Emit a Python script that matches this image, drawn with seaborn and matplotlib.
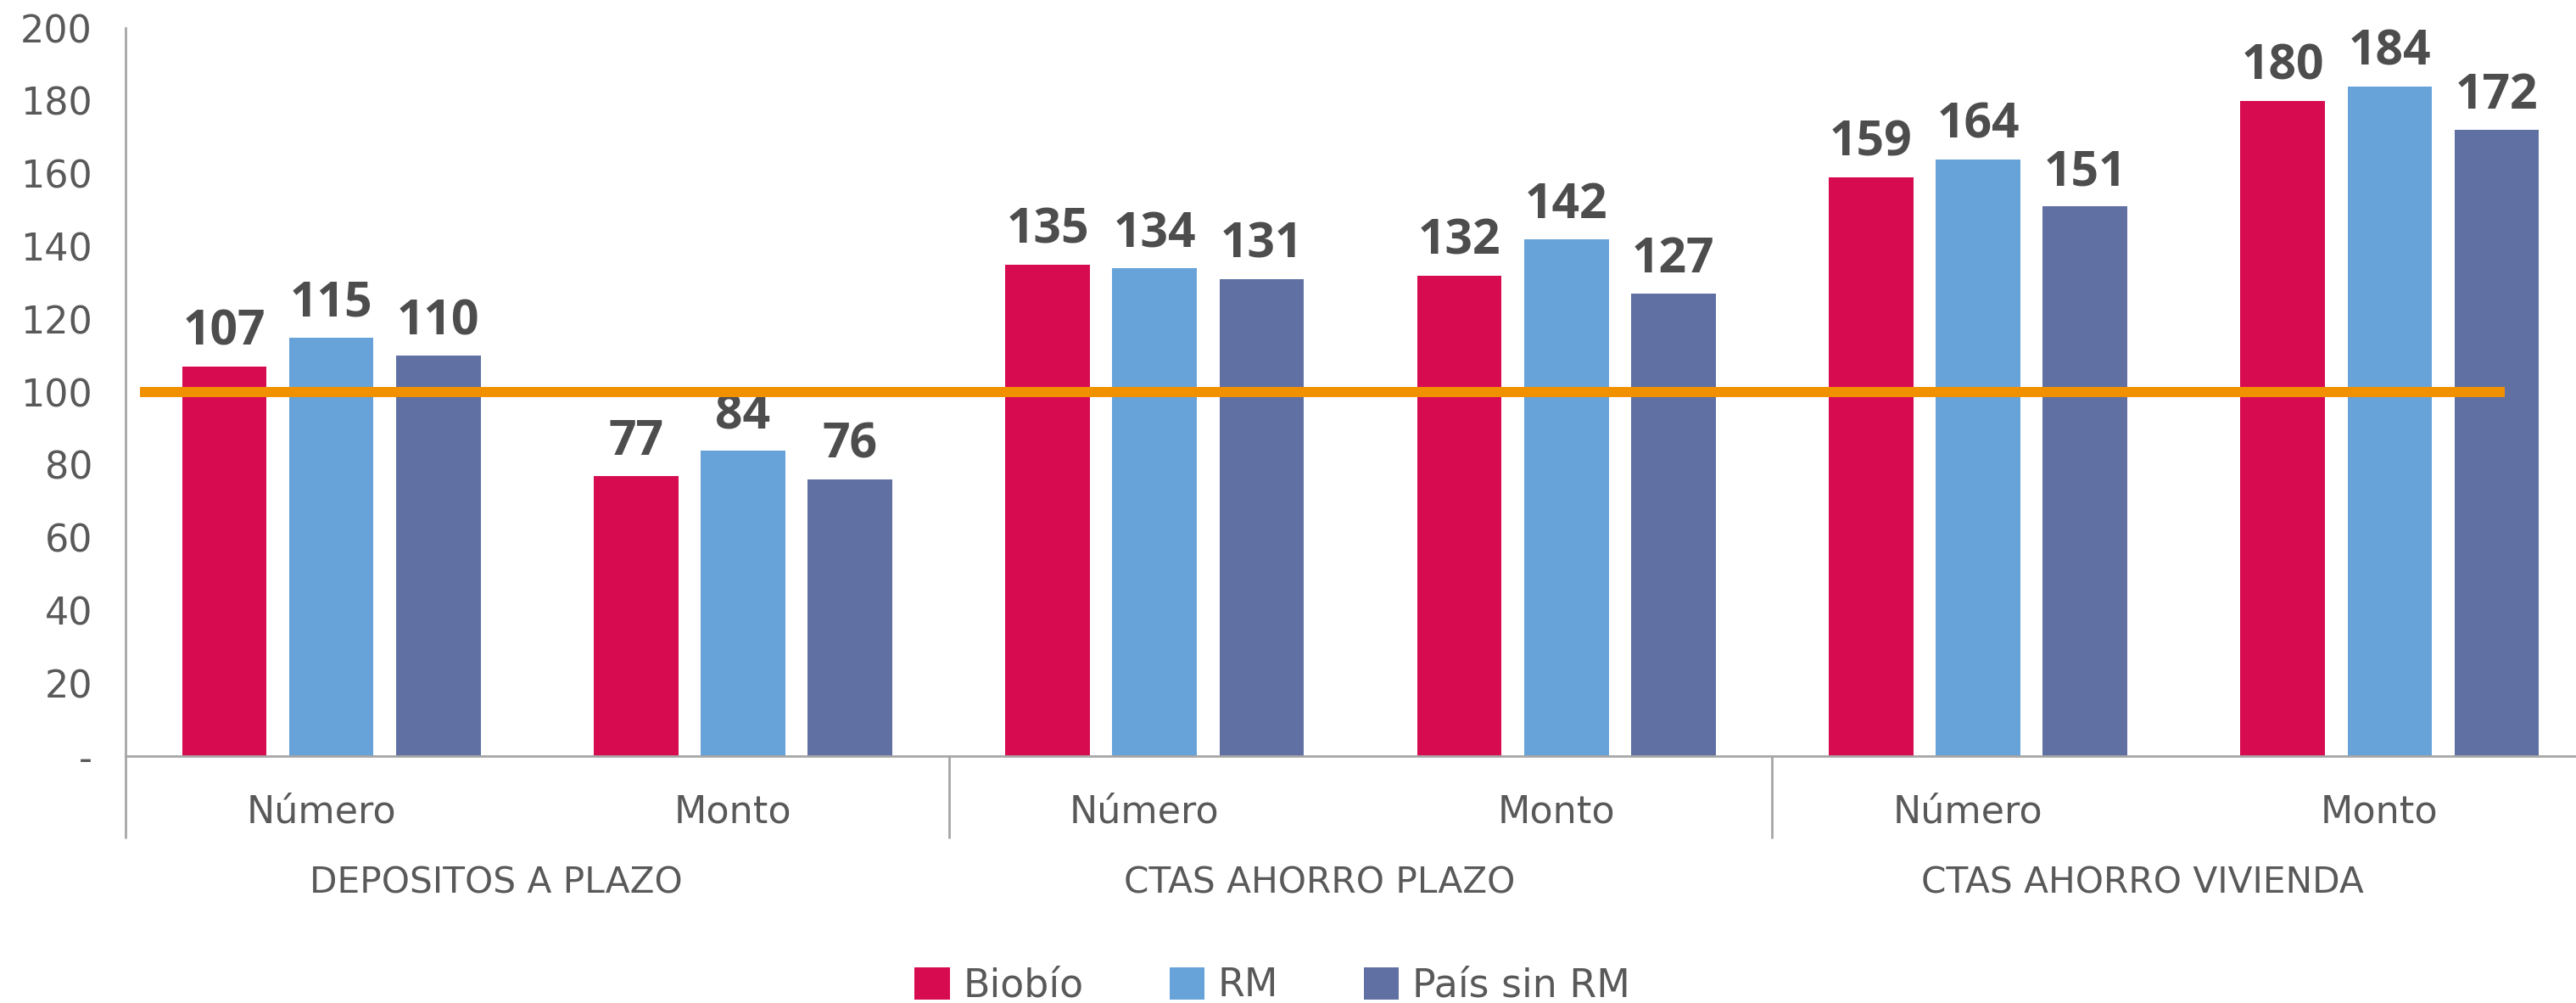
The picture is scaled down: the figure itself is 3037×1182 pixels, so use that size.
import numpy as np
import pandas as pd
import matplotlib
matplotlib.use('Agg')
import matplotlib.pyplot as plt
import matplotlib.transforms as mtransforms
from matplotlib.patches import Patch
import seaborn as sns

# data
groups = ['DEPOSITOS A PLAZO', 'CTAS AHORRO PLAZO', 'CTAS AHORRO VIVIENDA']
measures = ['Número', 'Monto']
series = ['Biobío', 'RM', 'País sin RM']
biobio = [107, 77, 135, 132, 159, 180]
rm = [115, 84, 134, 142, 164, 184]
pais_sin_rm = [110, 76, 131, 127, 151, 172]
reference_level = 100

colors = ['#D70C50', '#67A3D9', '#6170A3']
text_grey = '#595959'
axis_grey = '#A6A6A6'

sns.set_theme(style='white')
plt.rcParams['font.family'] = ['DejaVu Sans']

# one key per bar position (group | measure) so the duplicate labels stay apart
keys = ['{}|{}'.format(g, m) for g in groups for m in measures]
rows = []
for name, vals in zip(series, [biobio, rm, pais_sin_rm]):
    for k, v in zip(keys, vals):
        rows.append({'pos': k, 'serie': name, 'valor': v})
df = pd.DataFrame(rows)

fig = plt.figure(figsize=(15.185, 5.91), dpi=200)
ax = fig.add_axes([0.0487, 0.2462, 1.0076 - 0.0487, 0.972 - 0.2462])

sns.barplot(data=df, x='pos', y='valor', hue='serie', order=keys, hue_order=series,
            palette=colors, width=0.78, gap=0.21, saturation=1, linewidth=0,
            errorbar=None, legend=False, ax=ax)

# value labels, nudged a bit to the right like in the reference
lab_shift = mtransforms.ScaledTranslation(0.06, 0, fig.dpi_scale_trans)
for cont in ax.containers:
    texts = ax.bar_label(cont, fmt='%d', padding=4, fontsize=20.5, fontweight='bold',
                         color='#4D4D4D', family=['Open Sans', 'DejaVu Sans'])
    for t in texts:
        t.set_transform(t.get_transform() + lab_shift)

# reference line
ax.hlines(reference_level, -0.465, 5.28, color='#F29100', linewidth=4.3, zorder=3)

ax.set_xlim(-0.5, len(keys) - 0.5)
ax.set_ylim(0, 200)
ax.set_yticks(np.arange(0, 201, 20))
ax.set_yticklabels(['-'] + [str(v) for v in range(20, 201, 20)])
ax.set_xticks(range(len(keys)))
ax.set_xticklabels([k.split('|')[1] for k in keys])
ax.tick_params(axis='both', length=0, labelsize=16, labelcolor=text_grey)
ax.tick_params(axis='y', pad=14)
ax.tick_params(axis='x', pad=16)
ax.set_xlabel('')
ax.set_ylabel('')

# category labels sit a little left of the bar centres in the reference
shift = mtransforms.ScaledTranslation(-0.06, 0, fig.dpi_scale_trans)
for lab in ax.get_xticklabels():
    lab.set_transform(lab.get_transform() + shift)

for side in ['top', 'right']:
    ax.spines[side].set_visible(False)
for side in ['left', 'bottom']:
    ax.spines[side].set_color(axis_grey)
    ax.spines[side].set_linewidth(1)

# group separators and group names under the category labels
trans = mtransforms.blended_transform_factory(ax.transData, ax.transAxes)
for i in range(len(groups) + 1):
    xs = i * len(measures) - 0.5
    ax.plot([xs, xs], [0, -0.112], transform=trans, color=axis_grey,
            linewidth=1, clip_on=False)
for i, g in enumerate(groups):
    xc = i * len(measures) + (len(measures) - 1) / 2 - 0.1
    ax.text(xc, -0.1737, g, transform=trans, ha='center', va='center',
            fontsize=15.2, color=text_grey)

handles = [Patch(facecolor=c, edgecolor='none', label=s) for c, s in zip(colors, series)]
fig.legend(handles=handles, loc='center', bbox_to_anchor=(0.494, 0.017), ncol=3,
           frameon=False, fontsize=16.5, labelcolor=text_grey, handlelength=0.9,
           handleheight=0.9, handletextpad=0.35, columnspacing=2.2)

fig.savefig('out.png', dpi=200)
